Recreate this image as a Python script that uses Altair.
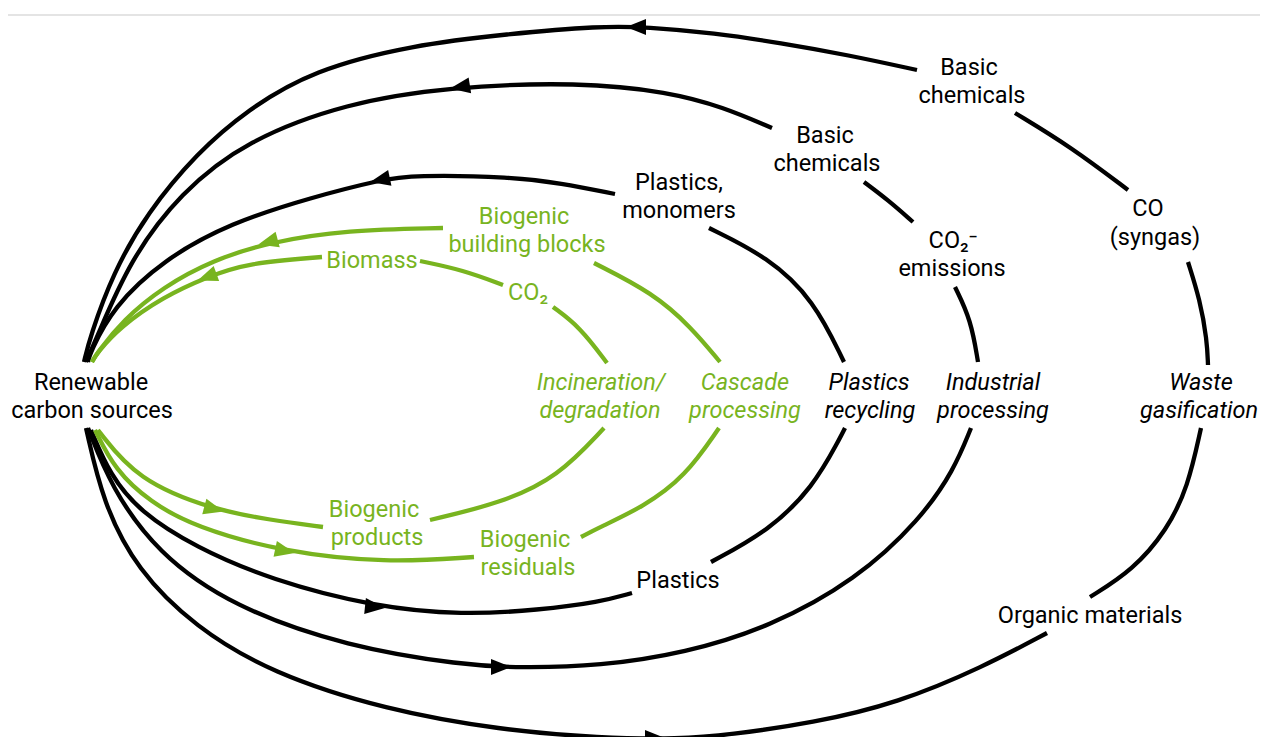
import altair as alt
import pandas as pd

# ---------------- colours ----------------
BLACK = "#000000"
GREEN = "#78b41f"
GRID = "#e4e4e4"

# ---------------- loop segments (px) ----------------
# Loop 5: waste gasification (outermost)
L5_A = [(86, 428), (103, 503), (137, 570), (195, 627), (271, 673), (386, 710), (501, 730),
        (600, 738), (680, 739), (728, 735), (813, 723), (898, 703), (983, 667), (1047, 633)]
L5_B = [(1090, 597), (1133, 570), (1167, 530), (1188, 487), (1201, 428)]
L5_C = [(1208, 365), (1207, 340), (1200, 300), (1188, 262)]
L5_D = [(1128, 190), (1071, 147), (1015, 113)]
L5_E = [(917, 70), (848, 55), (781, 43), (714, 33), (647, 27), (600, 26), (507, 34), (413, 45),
        (313, 70), (247, 110), (197, 153), (147, 213), (113, 273), (90, 337), (84, 362)]
# Loop 4: industrial processing
L4_A = [(88, 428), (111, 487), (157, 553), (233, 607), (348, 647), (463, 665), (520, 668),
        (600, 666), (685, 653), (770, 627), (856, 580), (920, 520), (954, 470), (971, 428)]
L4_B = [(978, 362), (971, 320), (955, 287)]
L4_C = [(913, 222), (888, 200), (864, 182)]
L4_D = [(772, 128), (723, 107), (669, 92), (580, 82), (447, 87), (347, 103), (247, 140),
        (180, 193), (130, 260), (97, 337), (86, 362)]
# Loop 3: plastics recycling
L3_A = [(91, 430), (110, 475), (140, 512), (195, 547), (271, 580), (375, 607), (463, 615),
        (539, 610), (600, 602), (632, 593)]
L3_B = [(711, 562), (770, 530), (813, 487), (839, 440), (845, 428)]
L3_C = [(844, 362), (814, 300), (768, 257), (709, 228)]
L3_D = [(615, 194), (560, 183), (513, 177), (413, 175), (380, 180), (313, 197), (230, 223),
        (163, 260), (113, 307), (90, 353), (88, 362)]
# Loop 2: cascade processing (green)
G2_A = [(95, 430), (115, 470), (150, 502), (195, 527), (283, 552), (386, 563), (474, 557)]
G2_B = [(581, 537), (600, 527), (643, 507), (685, 477), (719, 428)]
G2_C = [(720, 362), (691, 327), (653, 293), (594, 263)]
G2_D = [(443, 228), (347, 230), (270, 242), (213, 260), (163, 287), (123, 320), (97, 353), (92, 362)]
# Loop 1: incineration / degradation (green)
G1_A = [(98, 430), (137, 480), (214, 510), (271, 520), (323, 527)]
G1_B = [(430, 520), (501, 503), (558, 477), (604, 428)]
G1_C = [(607, 363), (580, 327), (553, 307)]
G1_D = [(503, 285), (463, 270), (420, 261)]
G1_E = [(322, 257), (247, 263), (207, 277), (163, 297), (120, 327), (97, 353), (92, 362)]

SEGMENTS = [
    ("L5_A", BLACK, L5_A), ("L5_B", BLACK, L5_B), ("L5_C", BLACK, L5_C), ("L5_D", BLACK, L5_D), ("L5_E", BLACK, L5_E),
    ("L4_A", BLACK, L4_A), ("L4_B", BLACK, L4_B), ("L4_C", BLACK, L4_C), ("L4_D", BLACK, L4_D),
    ("L3_A", BLACK, L3_A), ("L3_B", BLACK, L3_B), ("L3_C", BLACK, L3_C), ("L3_D", BLACK, L3_D),
    ("G2_A", GREEN, G2_A), ("G2_B", GREEN, G2_B), ("G2_C", GREEN, G2_C), ("G2_D", GREEN, G2_D),
    ("G1_A", GREEN, G1_A), ("G1_B", GREEN, G1_B), ("G1_C", GREEN, G1_C), ("G1_D", GREEN, G1_D), ("G1_E", GREEN, G1_E),
]

# ---------------- arrow heads (position, direction in degrees, colour) ----------------
ARROW_X = [636, 655, 460, 501, 380, 375, 268, 285, 207, 214]
ARROW_Y = [27, 738, 87, 667, 180, 607, 242, 551, 277, 509]
ARROW_ANGLE = [0, 180, 351, 180, 348, 186, 345, 192, 340, 195]
ARROW_COLOR = [BLACK, BLACK, BLACK, BLACK, BLACK, BLACK, GREEN, GREEN, GREEN, GREEN]

# ---------------- labels (text, centre x, baseline y, colour, italic) ----------------
LABEL_TEXT = ["Renewable", "carbon sources",
              "Basic", "chemicals", "Basic", "chemicals",
              "CO", "(syngas)", "CO\u2082\u207b", "emissions",
              "Plastics,", "monomers", "Plastics", "Organic materials",
              "Biogenic", "building blocks", "Biomass", "CO\u2082",
              "Biogenic", "products", "Biogenic", "residuals",
              "Waste", "gasification", "Industrial", "processing",
              "Plastics", "recycling", "Cascade", "processing",
              "Incineration/", "degradation"]
LABEL_X = [91, 92,
           969, 972, 825, 827,
           1148, 1155, 953, 952,
           679, 679, 678, 1090,
           524, 527, 372, 528,
           374, 377, 525, 528,
           1201, 1199, 993, 993,
           869, 870, 745, 745,
           601, 600]
LABEL_Y = [390, 418,
           75, 103, 143, 171,
           216, 245, 248, 276,
           190, 218, 588, 623,
           224, 252, 268, 300,
           517, 545, 547, 575,
           390, 418, 390, 418,
           390, 418, 390, 418,
           390, 418]
LABEL_COLOR = [BLACK] * 14 + [GREEN] * 8 + [BLACK] * 6 + [GREEN] * 4
LABEL_ITALIC = [False] * 22 + [True] * 10

TOP_RULE_Y = [15]

# ---------------- build tables ----------------
rows = []
for name, col, pts in SEGMENTS:
    for i, (x, y) in enumerate(pts):
        rows.append({"seg": name, "i": i, "x": x, "y": y, "color": col})
lines_df = pd.DataFrame(rows)

arrows_df = pd.DataFrame({"x": ARROW_X, "y": ARROW_Y, "ang": ARROW_ANGLE, "color": ARROW_COLOR})
labels_df = pd.DataFrame({"text": LABEL_TEXT, "x": LABEL_X, "y": LABEL_Y,
                          "color": LABEL_COLOR, "italic": LABEL_ITALIC})
rule_df = pd.DataFrame({"y": TOP_RULE_Y})

W, H = 1252, 729
xs = alt.Scale(domain=[8, 8 + W], nice=False, zero=False)
ys = alt.Scale(domain=[8, 8 + H], nice=False, zero=False, reverse=True)
X = alt.X("x:Q", scale=xs, axis=None)
Y = alt.Y("y:Q", scale=ys, axis=None)

rule = alt.Chart(rule_df).mark_rule(color=GRID, strokeWidth=2).encode(
    y=Y, x=alt.value(0), x2=alt.value(W))

lines = alt.Chart(lines_df).mark_line(interpolate="basis", strokeWidth=4.3,
                                      strokeCap="butt", clip=False).encode(
    x=X, y=Y, detail="seg:N", order="i:Q", color=alt.Color("color:N", scale=None))

arrows = alt.Chart(arrows_df).mark_point(shape="M -1 0 L 1 -0.8 L 1 0.8 Z", filled=True,
                                         size=400, opacity=1, strokeWidth=0).encode(
    x=X, y=Y, angle=alt.Angle("ang:Q", scale=None), color=alt.Color("color:N", scale=None))

FONT = "Roboto"
FS = 23.5
txt_norm = alt.Chart(labels_df).transform_filter("!datum.italic").mark_text(
    font=FONT, fontSize=FS, align="center", baseline="alphabetic").encode(
    x=X, y=Y, text="text:N", color=alt.Color("color:N", scale=None))
txt_ital = alt.Chart(labels_df).transform_filter("datum.italic").mark_text(
    font=FONT, fontSize=FS, fontStyle="italic", align="center", baseline="alphabetic").encode(
    x=X, y=Y, text="text:N", color=alt.Color("color:N", scale=None))

chart = alt.layer(rule, lines, arrows, txt_norm, txt_ital).properties(
    width=W, height=H, padding=0, autosize=alt.AutoSizeParams(type="none")
).configure_view(stroke=None)

chart.save("out.html", embed_options={"renderer": "svg", "actions": False})
